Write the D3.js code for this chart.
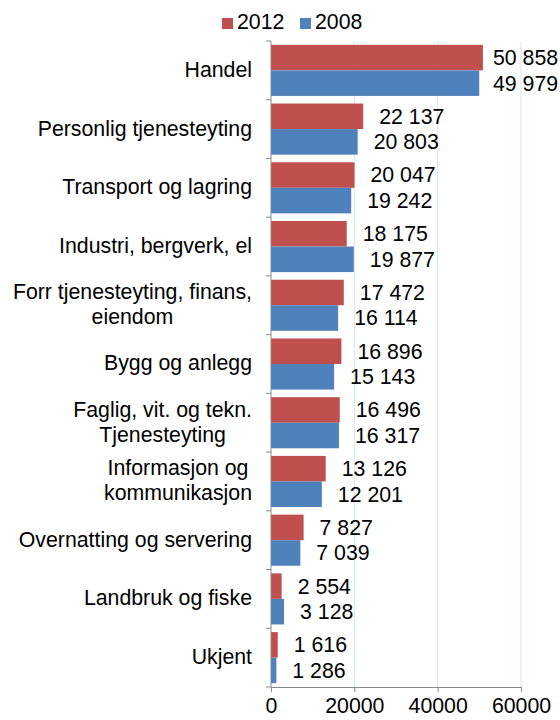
<!DOCTYPE html>
<html>
<head>
<meta charset="utf-8">
<script src="https://cdn.jsdelivr.net/npm/d3@7"></script>
<style>
  body { margin: 0; background: #fff; }
  svg { font-family: "Liberation Sans", Arial, sans-serif; }
</style>
</head>
<body>
<div id="chart"></div>
<script>
// data
var categories = [
  "Handel",
  "Personlig tjenesteyting",
  "Transport og lagring",
  "Industri, bergverk, el",
  "Forr tjenesteyting, finans,\neiendom",
  "Bygg og anlegg",
  "Faglig, vit. og tekn.\nTjenesteyting",
  "Informasjon og\nkommunikasjon",
  "Overnatting og servering",
  "Landbruk og fiske",
  "Ukjent"
];
var seriesNames = ["2012", "2008"];
var values2012 = [50858, 22137, 20047, 18175, 17472, 16896, 16496, 13126, 7827, 2554, 1616];
var values2008 = [49979, 20803, 19242, 19877, 16114, 15143, 16317, 12201, 7039, 3128, 1286];
var xTicks = [0, 20000, 40000, 60000];

var colors = {"2012": "#C0504D", "2008": "#4F81BD"};

var width = 560, height = 720;
var plotLeft = 271, plotRight = 521, plotTop = 41, plotBottom = 687;
var fontSize = 21.3;
var labelRight = 252;

var svg = d3.select("#chart").append("svg")
    .attr("width", width)
    .attr("height", height);

var xScale = d3.scaleLinear().domain([0, 60000]).range([plotLeft, plotRight]);
var yScale = d3.scaleBand().domain(categories).range([plotTop, plotBottom]).paddingInner(0.13).paddingOuter(0.065);
var ySub = d3.scaleBand().domain(seriesNames).range([0, yScale.bandwidth()]);

var nb = d3.formatLocale({decimal: ",", thousands: "\u00a0", grouping: [3], currency: ["", " kr"]}).format(",d");

// gridlines
svg.append("g")
    .selectAll("line")
    .data(xTicks.slice(1))
    .enter().append("line")
    .attr("x1", function(d) { return xScale(d); })
    .attr("x2", function(d) { return xScale(d); })
    .attr("y1", plotTop)
    .attr("y2", plotBottom)
    .attr("stroke", "#D9E3F0")
    .attr("stroke-width", 1);

// bars
var rows = categories.map(function(c, i) {
  return {cat: c, vals: [{s: "2012", v: values2012[i]}, {s: "2008", v: values2008[i]}]};
});

var groups = svg.selectAll(".grp")
    .data(rows)
    .enter().append("g")
    .attr("class", "grp")
    .attr("transform", function(d) { return "translate(0," + yScale(d.cat) + ")"; });

groups.selectAll("rect")
    .data(function(d) { return d.vals; })
    .enter().append("rect")
    .attr("x", xScale(0))
    .attr("y", function(d) { return ySub(d.s); })
    .attr("height", ySub.bandwidth())
    .attr("width", function(d) { return xScale(d.v) - xScale(0); })
    .attr("fill", function(d) { return colors[d.s]; });

groups.selectAll("text")
    .data(function(d) { return d.vals; })
    .enter().append("text")
    .attr("x", function(d) { return Math.min(xScale(d.v) + 16, width - 67); })
    .attr("y", function(d) { return ySub(d.s) + ySub.bandwidth() / 2; })
    .attr("dy", "0.35em")
    .attr("font-size", fontSize)
    .attr("fill", "#000")
    .text(function(d) { return nb(d.v); });

// y axis
var yAxis = svg.append("g");
yAxis.append("line")
    .attr("x1", plotLeft).attr("x2", plotLeft)
    .attr("y1", plotTop).attr("y2", plotBottom)
    .attr("stroke", "#898989");
var edges = categories.map(function(c) { return yScale(c) - yScale.step() * yScale.paddingInner() / 2; });
edges[0] = plotTop;
edges.push(plotBottom);
yAxis.selectAll(".tk")
    .data(edges)
    .enter().append("line")
    .attr("x1", plotLeft - 5).attr("x2", plotLeft)
    .attr("y1", function(d) { return d; })
    .attr("y2", function(d) { return d; })
    .attr("stroke", "#898989");

// category labels, multi-line ones centred as a block
svg.append("g").selectAll("text")
    .data(categories)
    .enter().append("text")
    .attr("font-size", fontSize)
    .attr("fill", "#000")
    .each(function(c) {
      var lines = c.split("\n");
      var cy = yScale(c) + yScale.bandwidth() / 2;
      var lh = 25;
      var t = d3.select(this);
      var spans = lines.map(function(l, i) {
        return t.append("tspan")
          .attr("y", cy + (i - (lines.length - 1) / 2) * lh - 1)
          .attr("dy", "0.35em")
          .text(l);
      });
      var maxW = d3.max(spans, function(s) { return s.node().getComputedTextLength(); });
      if (lines.length > 1) {
        t.attr("text-anchor", "middle");
        spans.forEach(function(s) { s.attr("x", labelRight - maxW / 2); });
      } else {
        t.attr("text-anchor", "end");
        spans.forEach(function(s) { s.attr("x", labelRight); });
      }
    });

// x axis
var xAxis = d3.axisBottom(xScale).tickValues(xTicks).tickSize(5).tickFormat(d3.format("d"));
var xg = svg.append("g")
    .attr("transform", "translate(0," + plotBottom + ")")
    .call(xAxis);
xg.select(".domain").attr("stroke", "#898989");
xg.selectAll(".tick line").attr("stroke", "#898989");
xg.selectAll(".tick text")
    .attr("font-size", fontSize)
    .attr("font-family", "Liberation Sans, Arial, sans-serif")
    .attr("fill", "#000")
    .attr("y", 11)
    .attr("dy", "0.71em");

// legend
var legend = svg.append("g").selectAll("g")
    .data(seriesNames)
    .enter().append("g")
    .attr("transform", function(d, i) { return "translate(" + (222 + i * 78) + ",18)"; });
legend.append("rect")
    .attr("width", 11).attr("height", 11)
    .attr("fill", function(d) { return colors[d]; });
legend.append("text")
    .attr("x", 15)
    .attr("y", 11)
    .attr("font-size", fontSize)
    .attr("fill", "#000")
    .text(function(d) { return d; });
</script>
</body>
</html>
